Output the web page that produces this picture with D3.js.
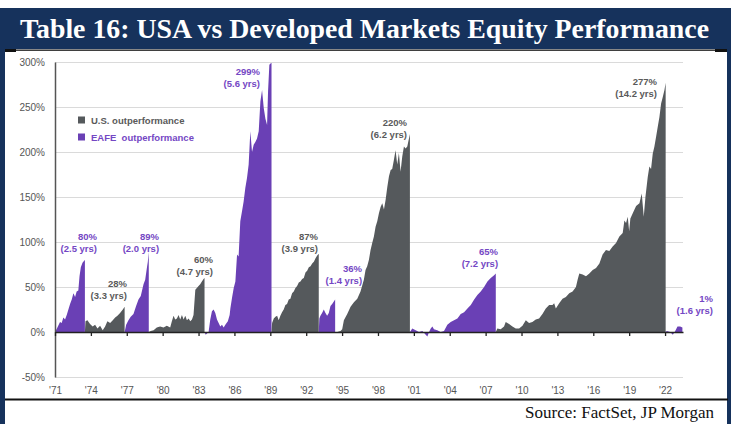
<!DOCTYPE html>
<html><head><meta charset="utf-8">
<script src="https://cdn.jsdelivr.net/npm/d3@7"></script>
<style>html,body{margin:0;padding:0;background:#fff;} svg{display:block;}</style>
</head><body><svg id="c" width="732" height="424"></svg>
<script>
// ---------- DATA ----------
const titleText = "Table 16: USA vs Developed Markets Equity Performance";
const sourceText = "Source: FactSet, JP Morgan";
const seriesNames = ["U.S. outperformance", "EAFE  outperformance"];
const yTickValues = [-50, 0, 50, 100, 150, 200, 250, 300];
const xTickYears = [1971,1974,1977,1980,1983,1986,1989,1992,1995,1998,2001,2004,2007,2010,2013,2016,2019,2022];
const xTickLabels = ["'71","'74","'77","'80","'83","'86","'89","'92","'95","'98","'01","'04","'07","'10","'13","'16","'19","'22"];

// each cycle: [year, cumulative relative performance %]
const cycle1 = [[1971.0,0],[1971.2,5],[1971.42,11],[1971.56,10],[1971.7,16],[1971.84,14],[1971.98,19],[1972.12,25],[1972.26,31],[1972.4,36],[1972.54,43],[1972.68,39],[1972.81,45],[1972.95,46],[1973.05,62],[1973.16,72],[1973.3,77],[1973.42,79],[1973.5,80]];
const cycle2 = [[1973.5,0],[1973.55,12],[1973.71,13],[1973.93,9],[1974.15,6],[1974.35,8],[1974.55,4],[1974.77,7],[1974.99,2],[1975.19,6],[1975.38,12],[1975.61,10],[1975.83,13],[1976.03,16],[1976.22,18],[1976.44,21],[1976.67,25],[1976.82,28]];
const cycle3 = [[1976.82,0],[1976.95,8],[1977.14,13],[1977.33,17],[1977.56,20],[1977.78,29],[1977.98,36],[1978.17,40],[1978.4,53],[1978.54,58],[1978.68,71],[1978.76,78],[1978.84,89]];
const cycle4 = [[1978.84,0],[1979.0,1],[1979.24,2],[1979.51,5],[1979.79,6],[1980.07,5],[1980.35,7],[1980.63,5],[1980.77,12],[1980.91,18],[1981.05,14],[1981.19,15],[1981.33,19],[1981.47,14],[1981.61,19],[1981.75,14],[1981.89,18],[1982.03,13],[1982.17,15],[1982.31,12],[1982.45,14],[1982.58,19],[1982.73,47],[1982.86,49],[1983.0,51],[1983.14,53],[1983.28,56],[1983.42,59],[1983.5,60]];
const cycle5 = [[1983.5,0],[1983.6,-3],[1983.84,0],[1983.98,14],[1984.12,23],[1984.26,25],[1984.4,21],[1984.54,14],[1984.68,10],[1984.82,6],[1984.96,8],[1985.1,5],[1985.24,8],[1985.45,12],[1985.6,19],[1985.66,26],[1985.8,38],[1985.94,49],[1986.08,56],[1986.22,86],[1986.35,84],[1986.49,123],[1986.63,134],[1986.77,145],[1986.91,160],[1987.05,171],[1987.19,186],[1987.33,223],[1987.47,200],[1987.61,208],[1987.75,211],[1987.89,215],[1988.03,223],[1988.17,256],[1988.31,269],[1988.45,249],[1988.59,237],[1988.73,230],[1988.81,267],[1988.92,297],[1989.06,299],[1989.1,299]];
const cycle6 = [[1989.1,0],[1989.15,10],[1989.29,15],[1989.43,17],[1989.57,18],[1989.7,13],[1989.84,18],[1989.98,22],[1990.12,25],[1990.26,30],[1990.4,31],[1990.54,36],[1990.68,37],[1990.82,43],[1990.96,45],[1991.1,49],[1991.24,51],[1991.38,55],[1991.52,56],[1991.66,59],[1991.8,60],[1991.94,66],[1992.08,68],[1992.22,72],[1992.36,73],[1992.5,76],[1992.64,78],[1992.78,82],[1992.92,85],[1993.05,87]];
const cycle7 = [[1993.05,0],[1993.1,15],[1993.19,18],[1993.33,21],[1993.47,25],[1993.61,21],[1993.75,18],[1993.89,21],[1994.03,29],[1994.17,31],[1994.31,34],[1994.42,36]];
const cycle8 = [[1994.42,0],[1994.6,0],[1994.87,1],[1995.01,3],[1995.15,13],[1995.43,20],[1995.71,28],[1995.99,33],[1996.27,37],[1996.54,45],[1996.82,58],[1996.96,69],[1997.1,73],[1997.24,80],[1997.38,91],[1997.52,99],[1997.66,106],[1997.8,117],[1997.94,123],[1998.08,132],[1998.22,139],[1998.36,143],[1998.5,136],[1998.64,147],[1998.78,161],[1998.92,173],[1999.06,180],[1999.19,181],[1999.33,191],[1999.47,202],[1999.61,186],[1999.75,199],[1999.89,178],[2000.03,195],[2000.17,206],[2000.31,204],[2000.45,206],[2000.59,215],[2000.67,220]];
const cycle9 = [[2000.67,0],[2000.87,4],[2001.15,2],[2001.43,0],[2001.71,1],[2001.99,-3],[2002.13,-5],[2002.27,0],[2002.41,4],[2002.55,6],[2002.68,3],[2002.96,2],[2003.24,0],[2003.52,1],[2003.8,8],[2004.08,11],[2004.36,13],[2004.64,15],[2004.92,20],[2005.2,22],[2005.48,26],[2005.76,30],[2006.04,36],[2006.31,41],[2006.59,45],[2006.87,50],[2007.15,56],[2007.43,60],[2007.71,63],[2007.85,65]];
const cycle10 = [[2007.85,0],[2007.98,4],[2008.26,3],[2008.54,6],[2008.68,11],[2008.96,9],[2009.24,6],[2009.52,4],[2009.8,4],[2010.08,7],[2010.36,13],[2010.63,10],[2010.91,11],[2011.19,14],[2011.47,15],[2011.75,20],[2012.03,26],[2012.31,30],[2012.59,30],[2012.73,32],[2012.87,26],[2013.15,32],[2013.43,37],[2013.71,39],[2013.99,43],[2014.27,45],[2014.55,50],[2014.69,58],[2014.83,65],[2015.11,64],[2015.39,62],[2015.67,65],[2015.95,69],[2016.23,71],[2016.51,76],[2016.78,86],[2017.06,91],[2017.34,90],[2017.62,95],[2017.9,99],[2018.18,106],[2018.46,110],[2018.6,124],[2018.74,121],[2018.88,128],[2019.0,112],[2019.1,126],[2019.3,132],[2019.58,140],[2019.86,143],[2020.05,154],[2020.22,128],[2020.36,150],[2020.55,172],[2020.69,184],[2020.83,181],[2020.97,198],[2021.11,206],[2021.25,217],[2021.39,228],[2021.53,239],[2021.67,254],[2021.81,261],[2021.95,269],[2022.05,277]];
const cycle11 = [[2022.05,0],[2022.15,1],[2022.43,0],[2022.65,-3],[2022.85,1],[2023.04,6],[2023.26,6],[2023.45,5]];

const cycleLeader = ["EAFE","US","EAFE","US","EAFE","US","EAFE","US","EAFE","US","EAFE"];
const cyclePeakLabel = ["80%","28%","89%","60%","299%","87%","36%","220%","65%","277%","1%"];
const cycleYearsLabel = ["(2.5 yrs)","(3.3 yrs)","(2.0 yrs)","(4.7 yrs)","(5.6 yrs)","(3.9 yrs)","(1.4 yrs)","(6.2 yrs)","(7.2 yrs)","(14.2 yrs)","(1.6 yrs)"];

// ---------- LAYOUT ----------
// annotation anchor (right edge of text, first line), in data coordinates
const annoAnchorYear  = [1974.51,1977.02,1979.70,1984.21,1988.14,1992.99,1996.67,2000.43,2008.04,2021.33,2026.01];
const annoAnchorValue = [105.6,54.4,105.6,81.1,288.9,105.6,71.1,233.3,88.9,277.8,36.7];

const navy = "#16325c";
const colors = {US: "#55595c", EAFE: "#6a40b5"};
const textColors = {US: "#5a5a5a", EAFE: "#7447c4"};
const sans = "'Liberation Sans', Arial, sans-serif";
const serif = "'Liberation Serif', 'Times New Roman', serif";

const svg = d3.select("#c");
const x = d3.scaleLinear().domain([1971, 2023.5]).range([55, 683]);
const y = d3.scaleLinear().domain([-50, 300]).range([377, 62]);

// frame
svg.append("rect").attr("x",0).attr("y",0).attr("width",732).attr("height",424).attr("fill","#fff");
svg.append("rect").attr("x",2).attr("y",8).attr("width",727).attr("height",41).attr("fill",navy);
svg.append("rect").attr("x",0).attr("y",8).attr("width",5).attr("height",416).attr("fill",navy);
svg.append("rect").attr("x",727).attr("y",8).attr("width",4).attr("height",416).attr("fill",navy);
svg.append("rect").attr("x",5).attr("y",49.5).attr("width",722).attr("height",1.3).attr("fill","#111");
svg.append("rect").attr("x",5).attr("y",49).attr("width",11).attr("height",3).attr("fill","#111");
svg.append("rect").attr("x",715).attr("y",49).attr("width",12).attr("height",3).attr("fill","#111");
svg.append("rect").attr("x",5).attr("y",398.5).attr("width",723).attr("height",2).attr("fill","#111");

svg.append("text").attr("x",20).attr("y",38)
  .attr("textLength",689).attr("lengthAdjust","spacingAndGlyphs")
  .attr("font-family",serif).attr("font-weight","bold").attr("font-size",27)
  .attr("fill","#fff").text(titleText);

svg.append("text").attr("x",714).attr("y",418).attr("text-anchor","end")
  .attr("font-family",serif).attr("font-size",17).attr("fill","#111").text(sourceText);

// gridlines
svg.append("g").selectAll("line").data(yTickValues.filter(v => v !== 0)).join("line")
  .attr("x1", x(1971)).attr("x2", x(2023.5))
  .attr("y1", d => y(d) + 0.5).attr("y2", d => y(d) + 0.5)
  .attr("stroke","#dadada").attr("stroke-width",1);

// areas
const area = d3.area().x(d => x(d[0])).y0(y(0)).y1(d => y(d[1]));
const cycles = [cycle1,cycle2,cycle3,cycle4,cycle5,cycle6,cycle7,cycle8,cycle9,cycle10,cycle11];
svg.append("g").selectAll("path").data(cycles).join("path")
  .attr("d", d => area(d))
  .attr("fill", (d,i) => colors[cycleLeader[i]]);

// y axis
const yAxis = svg.append("g").attr("transform","translate(55,0)")
  .call(d3.axisLeft(y).tickValues(yTickValues).tickFormat(d => d + "%").tickSize(0).tickSizeOuter(0).tickPadding(10));
yAxis.select(".domain").attr("stroke","#555").attr("stroke-width",1.5);
yAxis.selectAll("text").attr("font-family",sans).attr("font-size",10).attr("fill","#555");

// x axis (ticks on zero line)
const xAxis = svg.append("g").attr("transform",`translate(0,${y(0)})`)
  .call(d3.axisBottom(x).tickValues(xTickYears).tickFormat("").tickSize(4).tickSizeOuter(0));
xAxis.select(".domain").attr("stroke","#222").attr("stroke-width",1.5);
xAxis.selectAll(".tick line").attr("stroke","#222").attr("stroke-width",1.3);

const xLab = svg.append("g").attr("transform","translate(0,384)")
  .call(d3.axisBottom(x).tickValues(xTickYears).tickFormat((d,i) => xTickLabels[i]).tickSize(0));
xLab.select(".domain").remove();
xLab.selectAll("text").attr("font-family",sans).attr("font-size",10).attr("fill","#555");

// legend
const legend = svg.append("g");
["US","EAFE"].forEach((k,i) => {
  legend.append("rect").attr("x",78).attr("y",116.5 + i*17).attr("width",7).attr("height",7).attr("fill",colors[k]);
  legend.append("text").attr("x",91).attr("y",123.5 + i*17)
    .attr("font-family",sans).attr("font-weight","bold").attr("font-size",9.5)
    .attr("fill", textColors[k]).attr("xml:space","preserve").text(seriesNames[i]);
});

// annotations
const anno = svg.append("g").attr("font-family",sans).attr("font-weight","bold").attr("font-size",9.5).attr("text-anchor","end");
cyclePeakLabel.forEach((t,i) => {
  const ax = x(annoAnchorYear[i]), ay = y(annoAnchorValue[i]);
  anno.append("text").attr("x",ax).attr("y",ay + 3.5).attr("fill",textColors[cycleLeader[i]]).text(t);
  anno.append("text").attr("x",ax).attr("y",ay + 15.5).attr("fill",textColors[cycleLeader[i]]).text(cycleYearsLabel[i]);
});
</script></body></html>
